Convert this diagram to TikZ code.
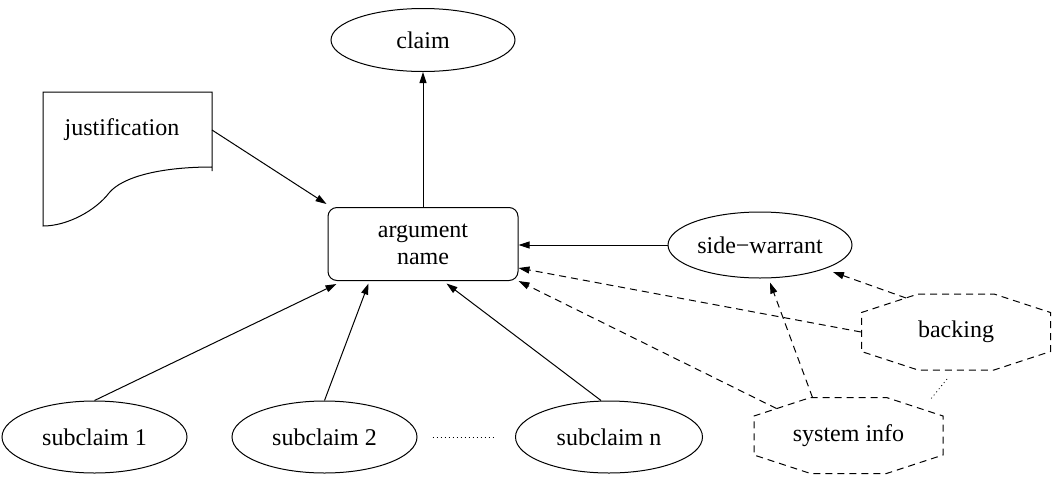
\documentclass[tikz,border=0pt]{standalone}
\usepackage{fontspec}
\setmainfont{Liberation Serif}
\usetikzlibrary{arrows.meta,calc,shapes.geometric}

% draws the dashed eight-sided outline around a node
\newcommand\octoline[1]{%
  \draw[dashed line] ($(#1)+(-38,-38)$) -- ($(#1)+(38,-38)$) -- ($(#1)+(94.5,-19.5)$)
    -- ($(#1)+(94.5,19.5)$) -- ($(#1)+(38,38)$) -- ($(#1)+(-38,38)$)
    -- ($(#1)+(-94.5,19.5)$) -- ($(#1)+(-94.5,-19.5)$) -- cycle;}

\begin{document}
\begin{tikzpicture}[x=1pt,y=-1pt,line width=1pt,
  every node/.style={font=\fontsize{24}{27}\selectfont},
  oval/.style={ellipse,draw,inner sep=0pt,minimum width=#1,minimum height=66},
  oval/.default=185,
  argbox/.style={rectangle,draw,rounded corners=9pt,align=center,
    minimum width=190,minimum height=73,inner sep=0pt},
  octo/.style={rectangle,inner sep=0pt,minimum width=189,minimum height=76},
  dashed line/.style={dash pattern=on 7pt off 5pt},
  arr/.style={-{Triangle[length=11pt,width=7pt]}},
  darr/.style={arr,dashed line},
  dotline/.style={dash pattern=on 1pt off 3pt}]

\useasboundingbox (0,0) rectangle (1055,480);

% nodes
\node[oval=184,minimum height=63] (claim) at (423,40) {claim};
\node[argbox] (arg) at (423,244) {argument\\name};
\node[oval=184] (sw) at (760,245) {side\char"2212 warrant};
\node[octo] (backing) at (956,332) {backing};
\node[octo] (sys) at (848.5,435.5) {system info};
\node[oval,minimum height=72] (sub1) at (94.5,437) {subclaim 1};
\node[oval,minimum height=72] (sub2) at (324.5,437) {subclaim 2};
\node[oval=187,minimum height=72] (subn) at (609,437) {subclaim n};
\node (just) at (122,130) {justification};
\coordinate (jout) at (212,130);

% document outline with a wavy lower edge
\draw (212,171) -- (212,92) -- (43,92) -- (43,226)
  .. controls (68,226) and (96,210) .. (109,193)
  .. controls (122,177) and (160,167) .. (212,167);

% octagon outlines
\octoline{backing}
\octoline{sys}

% solid connectors
\draw[arr] (arg.north) -- (claim.south);
\draw[arr] (jout) -- ($(arg.north west)+(-1,-3)$);
\draw[arr] (sw.west) -- (sw.west -| arg.east);
\draw[arr] (sub1.north) -- ($(arg.south west)+(9,3)$);
\draw[arr] (sub2.north) -- ($(arg.south west)+(41,2.5)$);
\draw[arr] ($(subn.north)+(-8,0)$) -- ($(arg.south west)+(119,2.5)$);

% dashed connectors
\draw[darr] (backing.west) -- ($(arg.east)+(0,24)$);
\draw[darr] ($(sys)+(-72,-27)$) -- (arg.south east);
\draw[darr] ($(sys)+(-36,-38)$) -- ($(sw.south)+(10,4)$);
\draw[darr] ($(backing)+(-50,-34)$) -- ($(sw)+(73,27)$);

% dotted links
\draw[dotline,line width=0.8pt] ($(sub2.east)+(15,0)$) -- ($(subn.west)+(-20,0)$);
\draw[dotline,line width=0.8pt] ($(backing)+(-9,47)$) -- ($(sys)+(81.5,-35.5)$);
\end{tikzpicture}
\end{document}
